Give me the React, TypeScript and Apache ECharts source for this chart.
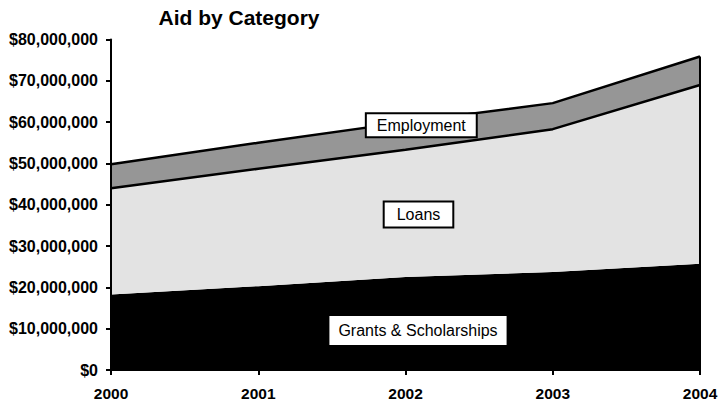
import React, { useEffect, useRef } from "react";
import * as echarts from "echarts";

const years = ["2000", "2001", "2002", "2003", "2004"];
const grants = [18300000, 20300000, 22500000, 23700000, 25700000];
const loans = [25700000, 28400000, 30800000, 34600000, 43300000];
const employment = [5800000, 6300000, 6700000, 6300000, 6900000];
const yTicks = { min: 0, max: 80000000, interval: 10000000 };

const FONT = "'Liberation Sans', Arial, sans-serif";

export default function App() {
  const ref = useRef<HTMLDivElement>(null);
  useEffect(() => {
    if (!ref.current) return;
    const chart = echarts.init(ref.current, undefined, { renderer: "svg" });
    const last = years.length - 1;
    const topLast = grants[last] + loans[last] + employment[last];
    chart.setOption({
      animation: false,
      backgroundColor: "#ffffff",
      textStyle: { fontFamily: FONT },
      grid: { left: 111, right: 18, top: 39.5, bottom: 33, outerBoundsMode: "none" },
      xAxis: {
        type: "category",
        data: years,
        boundaryGap: false,
        axisLine: { lineStyle: { color: "#000", width: 2 } },
        axisTick: { show: true, length: 5, lineStyle: { color: "#000", width: 2 } },
        axisLabel: { color: "#000", fontWeight: "bold", fontSize: 15.5, fontFamily: FONT, margin: 15 },
        splitLine: { show: false },
        z: 10,
      },
      yAxis: {
        type: "value",
        min: yTicks.min,
        max: yTicks.max,
        interval: yTicks.interval,
        axisLine: { show: true, lineStyle: { color: "#000", width: 2 } },
        axisTick: { show: true, length: 5, lineStyle: { color: "#000", width: 2 } },
        axisLabel: {
          color: "#000",
          fontWeight: "bold",
          fontSize: 16,
          fontFamily: FONT,
          margin: 13,
          formatter: (v: number) => "$" + v.toLocaleString("en-US"),
        },
        splitLine: { show: false },
        z: 10,
      },
      series: [
        {
          name: "Grants & Scholarships",
          type: "line",
          stack: "total",
          data: grants,
          showSymbol: false,
          symbol: "none",
          lineStyle: { color: "#000", width: 0 },
          areaStyle: { color: "#000000", opacity: 1 },
        },
        {
          name: "Loans",
          type: "line",
          stack: "total",
          data: loans,
          showSymbol: false,
          symbol: "none",
          lineStyle: { color: "#000", width: 2.5 },
          areaStyle: { color: "#e3e3e3", opacity: 1 },
        },
        {
          name: "Employment",
          type: "line",
          stack: "total",
          data: employment,
          showSymbol: false,
          symbol: "none",
          lineStyle: { color: "#000", width: 2.5 },
          areaStyle: { color: "#969696", opacity: 1 },
          markLine: {
            silent: true,
            symbol: "none",
            label: { show: false },
            lineStyle: { color: "#000", width: 2, type: "solid" },
            data: [[{ coord: [years[last], 0] }, { coord: [years[last], topLast] }]],
          },
        },
      ],
      graphic: [
        {
          type: "text",
          x: 239,
          y: 17,
          style: {
            text: "Aid by Category",
            fill: "#000",
            fontSize: 21,
            fontWeight: "bold",
            fontFamily: FONT,
            align: "center",
            verticalAlign: "middle",
          },
        },
        {
          type: "text",
          x: 421.3,
          y: 125.2,
          z: 100,
          style: {
            text: "Employment",
            fill: "#000",
            fontSize: 16,
            fontFamily: FONT,
            align: "center",
            verticalAlign: "middle",
            lineHeight: 16,
            backgroundColor: "#fff",
            borderColor: "#000",
            borderWidth: 2,
            padding: [3, 10],
          },
        },
        {
          type: "text",
          x: 418.5,
          y: 214.5,
          z: 100,
          style: {
            text: "Loans",
            fill: "#000",
            fontSize: 16,
            fontFamily: FONT,
            align: "center",
            verticalAlign: "middle",
            lineHeight: 16,
            backgroundColor: "#fff",
            borderColor: "#000",
            borderWidth: 2,
            padding: [4, 12],
          },
        },
        {
          type: "text",
          x: 418,
          y: 330.5,
          z: 100,
          style: {
            text: "Grants & Scholarships",
            fill: "#000",
            fontSize: 16,
            fontFamily: FONT,
            align: "center",
            verticalAlign: "middle",
            lineHeight: 17,
            backgroundColor: "#fff",
            padding: [6, 9],
          },
        },
      ],
    });
    return () => chart.dispose();
  }, []);
  return (
    <div
      ref={ref}
      style={{ position: "fixed", left: 0, top: 0, width: 718, height: 403 }}
    />
  );
}
